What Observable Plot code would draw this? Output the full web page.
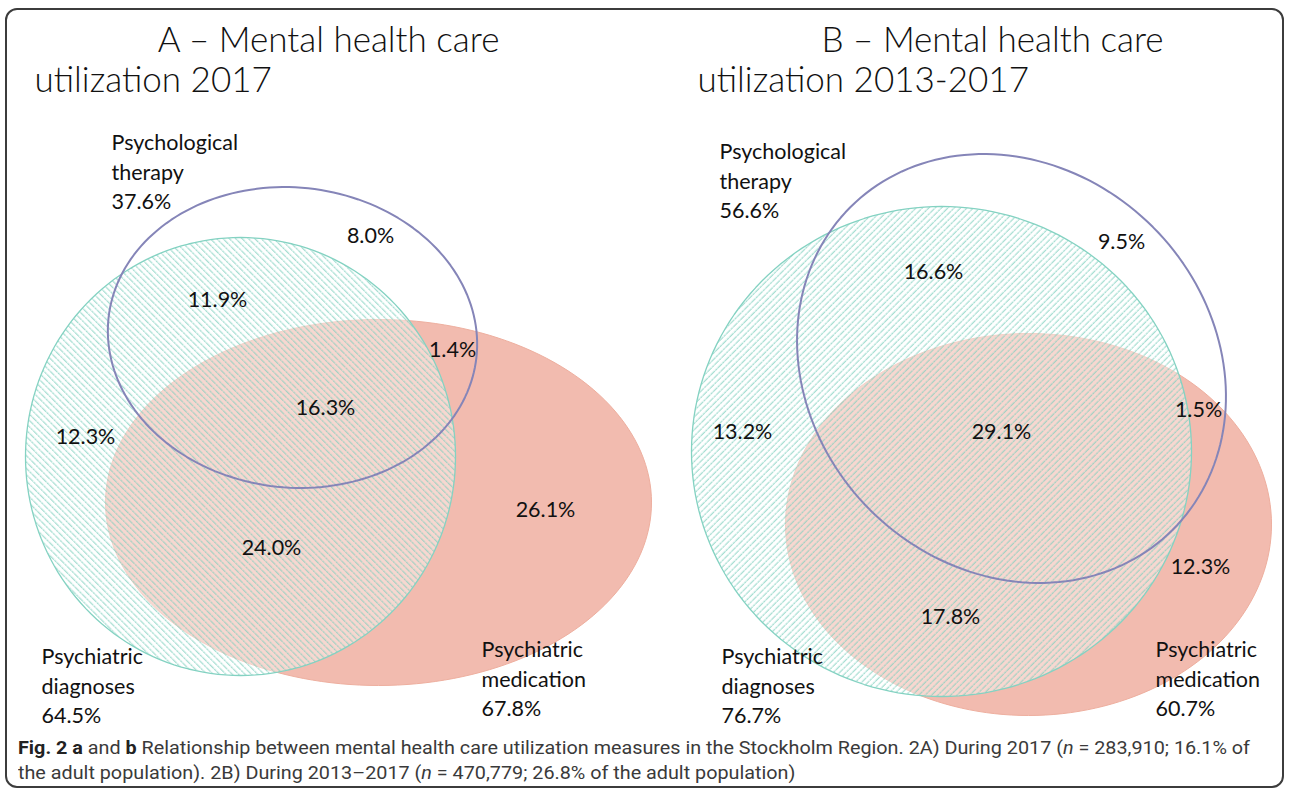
<!DOCTYPE html>
<html>
<head>
<meta charset="utf-8">
<script src="https://cdn.jsdelivr.net/npm/d3@7"></script>
<script src="https://cdn.jsdelivr.net/npm/@observablehq/plot@0.6"></script>
<style>
  html, body { margin: 0; padding: 0; background: #fff; }
  body { width: 1290px; height: 793px; position: relative; overflow: hidden; font-family: Lato, "Open Sans", sans-serif; }
  #frame { position: absolute; left: 5px; top: 8px; width: 1279px; height: 780px; border: 2px solid #3c3c3c; border-radius: 12px; box-sizing: border-box; }
  #chart { position: absolute; left: 0; top: 0; }
  #caption { position: absolute; left: 18px; top: 735px; font-family: Roboto, "Noto Sans", sans-serif; font-size: 18px; line-height: 25px; color: #3a3a3a; transform-origin: 0 0; white-space: nowrap; }
  #caption b { color: #222; }
</style>
</head>
<body>
<div id="frame"></div>
<div id="chart"></div>
<div id="caption"><div id="cap1"><b>Fig. 2 a</b> and <b>b</b> Relationship between mental health care utilization measures in the Stockholm Region. 2A) During 2017 (<i>n</i> = 283,910; 16.1% of</div><div>the adult population). 2B) During 2013–2017 (<i>n</i> = 470,779; 26.8% of the adult population)</div></div>
<script>
// ---- data ----
const panels = ["A", "B"];
const titleLine1 = ["A – Mental health care", "B – Mental health care"];
const titleLine2 = ["utilization 2017", "utilization 2013-2017"];
const setNames = ["Psychological\ntherapy", "Psychiatric\ndiagnoses", "Psychiatric\nmedication"];
const setTotalsA = ["37.6%", "64.5%", "67.8%"];
const setTotalsB = ["56.6%", "76.7%", "60.7%"];
const regionNames = ["therapy only", "therapy+diagnoses", "therapy+medication", "all three", "diagnoses only", "diagnoses+medication", "medication only"];
const regionValuesA = ["8.0%", "11.9%", "1.4%", "16.3%", "12.3%", "24.0%", "26.1%"];
const regionValuesB = ["9.5%", "16.6%", "1.5%", "29.1%", "13.2%", "17.8%", "12.3%"];

// ---- layout (pixel space of the figure) ----
// ellipse geometry: [cx, cy, rx, ry, rotationDeg] for therapy, diagnoses, medication
const shapesA = [[292, 337, 185, 150, 6], [240, 456, 215, 219, 0], [378, 502, 273, 183, 0]];
const shapesB = [[1011, 368, 228, 200, 45], [941, 451, 250, 245, 0], [1028, 524, 243, 191, 0]];
const regionPosA = [[370, 236], [217, 300], [452, 350], [325, 408], [85, 437], [271, 548], [545, 510]];
const regionPosB = [[1121, 242], [933, 272], [1198, 410], [1001, 432], [742, 432], [950, 617], [1200, 567]];
const setPosA = [[111, 129], [41, 643], [481, 636]];
const setPosB = [[719, 138], [721, 643], [1155, 636]];
const titlePos1 = [[328, 40], [992, 40]];
const titlePos2 = [[34, 80], [697, 80]];

function outline(panel, setIdx, [cx, cy, rx, ry, deg]) {
  const th = deg * Math.PI / 180, n = 180, pts = [];
  for (let i = 0; i < n; i++) {
    const t = 2 * Math.PI * i / n;
    const ex = rx * Math.cos(t), ey = ry * Math.sin(t);
    pts.push({panel, set: setIdx, x: cx + ex * Math.cos(th) - ey * Math.sin(th), y: cy + ex * Math.sin(th) + ey * Math.cos(th)});
  }
  return pts;
}
const shapes = {A: shapesA, B: shapesB};
const outlines = panels.flatMap(p => shapes[p].map((s, i) => outline(p, i, s)));
const therapy = outlines.filter(d => d[0].set === 0).flat();
const diagnoses = outlines.filter(d => d[0].set === 1).flat();
const medication = outlines.filter(d => d[0].set === 2).flat();
const diagA = diagnoses.filter(d => d.panel === "A");
const diagB = diagnoses.filter(d => d.panel === "B");

const regionLabels = [
  ...regionValuesA.map((v, i) => ({text: v, x: regionPosA[i][0], y: regionPosA[i][1]})),
  ...regionValuesB.map((v, i) => ({text: v, x: regionPosB[i][0], y: regionPosB[i][1]}))
];
const setLabels = [
  ...setNames.map((n, i) => ({text: n + "\n" + setTotalsA[i], x: setPosA[i][0], y: setPosA[i][1]})),
  ...setNames.map((n, i) => ({text: n + "\n" + setTotalsB[i], x: setPosB[i][0], y: setPosB[i][1]}))
];
const titles1 = titleLine1.map((t, i) => ({text: t, x: titlePos1[i][0], y: titlePos1[i][1]}));
const titles2 = titleLine2.map((t, i) => ({text: t, x: titlePos2[i][0], y: titlePos2[i][1]}));

const chart = Plot.plot({
  width: 1290,
  height: 730,
  margin: 0,
  x: {domain: [0, 1290], range: [0, 1290], axis: null},
  y: {domain: [0, 730], range: [0, 730], axis: null},
  style: {background: "transparent", fontFamily: "Lato, 'Open Sans', sans-serif"},
  marks: [
    Plot.line(medication, {x: "x", y: "y", z: "panel", curve: "linear-closed", fill: "#f2bbaf", stroke: "#eeaf9f", strokeWidth: 1}),
    Plot.line(diagnoses, {x: "x", y: "y", z: "panel", curve: "linear-closed", fill: "#ffffff", fillOpacity: 0.42, stroke: "none"}),
    Plot.line(diagA, {x: "x", y: "y", curve: "linear-closed", fill: "url(#hatchA)", stroke: "none"}),
    Plot.line(diagB, {x: "x", y: "y", curve: "linear-closed", fill: "url(#hatchB)", stroke: "none"}),
    Plot.line(diagnoses, {x: "x", y: "y", z: "panel", curve: "linear-closed", fill: "none", stroke: "#84d2c2", strokeWidth: 1.3}),
    Plot.line(therapy, {x: "x", y: "y", z: "panel", curve: "linear-closed", fill: "none", stroke: "#8585b8", strokeWidth: 2}),
    Plot.text(regionLabels, {x: "x", y: "y", text: "text", fontSize: 21.5, fill: "#111", textAnchor: "middle", lineAnchor: "middle"}),
    Plot.text(setLabels, {x: "x", y: "y", text: "text", fontSize: 21.5, fill: "#111", textAnchor: "start", lineAnchor: "top", lineHeight: 1.36}),
    Plot.text(titles1, {x: "x", y: "y", text: "text", fontSize: 35, fontWeight: 300, fill: "#111", textAnchor: "middle", lineAnchor: "middle"}),
    Plot.text(titles2, {x: "x", y: "y", text: "text", fontSize: 35, fontWeight: 300, fill: "#111", textAnchor: "start", lineAnchor: "middle"})
  ]
});

const defs = d3.select(chart).insert("defs", ":first-child");
function hatch(id, angle) {
  const p = defs.append("pattern").attr("id", id).attr("patternUnits", "userSpaceOnUse")
    .attr("width", 10).attr("height", 4.5).attr("patternTransform", `rotate(${angle})`);
  p.append("line").attr("x1", 0).attr("y1", 2).attr("x2", 10).attr("y2", 2)
    .attr("stroke", "#7ccdbd").attr("stroke-width", 0.9).attr("stroke-dasharray", "3 0.6");
}
hatch("hatchA", 45);
hatch("hatchB", -45);
document.getElementById("chart").appendChild(chart);

// fit caption's first line to the reference width
const cap = document.getElementById("caption");
const w1 = document.getElementById("cap1").getBoundingClientRect().width;
cap.style.transform = `scaleX(${1232 / w1})`;
</script>
</body>
</html>
